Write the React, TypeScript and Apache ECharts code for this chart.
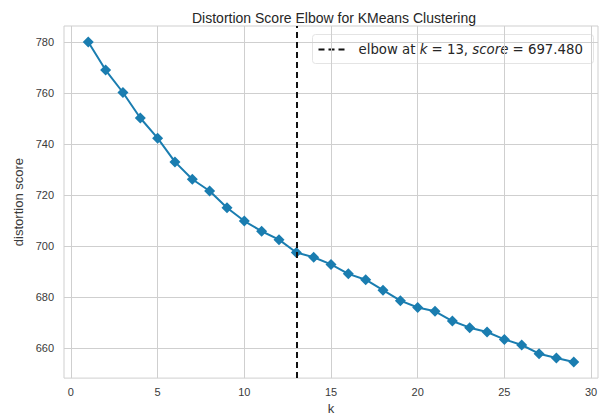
import React, { useEffect, useRef } from "react";
import * as echarts from "echarts";

// Number of clusters tried and the distortion score measured for each
const kValues: number[] = [
  1, 2, 3, 4, 5, 6, 7, 8, 9, 10, 11, 12, 13, 14, 15,
  16, 17, 18, 19, 20, 21, 22, 23, 24, 25, 26, 27, 28, 29,
];
const distortion: number[] = [
  780.0, 769.0, 760.2, 750.2, 742.3, 733.0, 726.2, 721.6, 715.0, 709.8,
  705.8, 702.5, 697.48, 695.6, 692.8, 689.1, 686.8, 682.7, 678.6, 675.9,
  674.4, 670.6, 668.0, 666.3, 663.4, 661.2, 657.8, 656.1, 654.5,
];

// Elbow found by the KMeans visualizer
const elbowK = 13;
const elbowScore = 697.48;

// Tick positions
const xTicks: number[] = [0, 5, 10, 15, 20, 25, 30];
const yTicks: number[] = [660, 680, 700, 720, 740, 760, 780];

const LINE_COLOR = "#1a7db0";
const GRID_COLOR = "#cfcfcf";
const TEXT_COLOR = "#3a3a3a";
const SANS = "'Liberation Sans', Arial, sans-serif";
const MATH = "'DejaVu Sans', sans-serif";

export default function App() {
  const ref = useRef<HTMLDivElement>(null);

  useEffect(() => {
    if (!ref.current) return;
    const chart = echarts.init(ref.current, undefined, { renderer: "svg" });

    // Matplotlib-style 5% padding around the data range
    const xPad = (Math.max(...kValues) - Math.min(...kValues)) * 0.05;
    const yMin = Math.min(...distortion);
    const yMax = Math.max(...distortion);
    const yPad = (yMax - yMin) * 0.05;

    const legendText = `{n|elbow at }{i|k}{n| = ${elbowK}, }{i|score}{n| = ${elbowScore.toFixed(3)}}`;

    chart.setOption({
      animation: false,
      backgroundColor: "#ffffff",
      title: {
        text: "Distortion Score Elbow for KMeans Clustering",
        left: 329,
        top: 6,
        textAlign: "center",
        textStyle: {
          fontFamily: SANS,
          fontSize: 14,
          fontWeight: "normal",
          color: "#262626",
        },
      },
      grid: {
        left: 64,
        right: 10,
        top: 26,
        bottom: 35,
        show: true,
        borderColor: GRID_COLOR,
        borderWidth: 1,
        containLabel: false,
      },
      xAxis: {
        type: "value",
        min: Math.min(...kValues) - xPad,
        max: Math.max(...kValues) + xPad,
        name: "k",
        nameLocation: "middle",
        nameGap: 22,
        nameTextStyle: { fontFamily: SANS, fontSize: 13, color: TEXT_COLOR },
        axisLine: { show: false },
        axisTick: { show: false, customValues: xTicks },
        axisLabel: {
          customValues: xTicks,
          fontFamily: SANS,
          fontSize: 11,
          color: TEXT_COLOR,
          margin: 8,
        },
        splitLine: { show: true, lineStyle: { color: GRID_COLOR, width: 1 } },
      },
      yAxis: {
        type: "value",
        min: yMin - yPad,
        max: yMax + yPad,
        name: "distortion score",
        nameLocation: "middle",
        nameGap: 37,
        nameTextStyle: { fontFamily: SANS, fontSize: 13, color: TEXT_COLOR },
        axisLine: { show: false },
        axisTick: { show: false, customValues: yTicks },
        axisLabel: {
          customValues: yTicks,
          fontFamily: SANS,
          fontSize: 11,
          color: TEXT_COLOR,
          margin: 10,
        },
        splitLine: { show: true, lineStyle: { color: GRID_COLOR, width: 1 } },
      },
      series: [
        {
          type: "line",
          data: kValues.map((k, i) => [k, distortion[i]]),
          symbol: "diamond",
          symbolSize: 11,
          showAllSymbol: true,
          lineStyle: { color: LINE_COLOR, width: 2 },
          itemStyle: { color: LINE_COLOR, borderColor: LINE_COLOR, borderWidth: 0 },
          z: 3,
          markLine: {
            silent: true,
            symbol: ["none", "none"],
            label: { show: false },
            lineStyle: { color: "#111111", type: [6, 4], width: 2 },
            data: [{ xAxis: elbowK }],
            z: 4,
          },
        },
      ],
      graphic: [
        {
          type: "group",
          left: 312,
          top: 34,
          z: 10,
          children: [
            {
              type: "rect",
              shape: { x: 0, y: 0, width: 281, height: 29, r: 3 },
              style: { fill: "rgba(255,255,255,0.85)", stroke: "#e4e4e4", lineWidth: 1 },
            },
            {
              type: "line",
              shape: { x1: 6, y1: 15, x2: 36, y2: 15 },
              style: { stroke: "#111111", lineWidth: 2, lineDash: [6, 4] },
            },
            {
              type: "text",
              x: 46,
              y: 15,
              style: {
                text: legendText,
                verticalAlign: "middle",
                fill: "#262626",
                rich: {
                  n: { fontFamily: MATH, fontSize: 13.3, fill: "#262626" },
                  i: { fontFamily: MATH, fontSize: 13.3, fontStyle: "italic", fill: "#262626" },
                },
              },
            },
          ],
        },
      ],
    });

    return () => chart.dispose();
  }, []);

  return (
    <div
      ref={ref}
      style={{ position: "fixed", left: 0, top: 0, width: 608, height: 420 }}
    />
  );
}
